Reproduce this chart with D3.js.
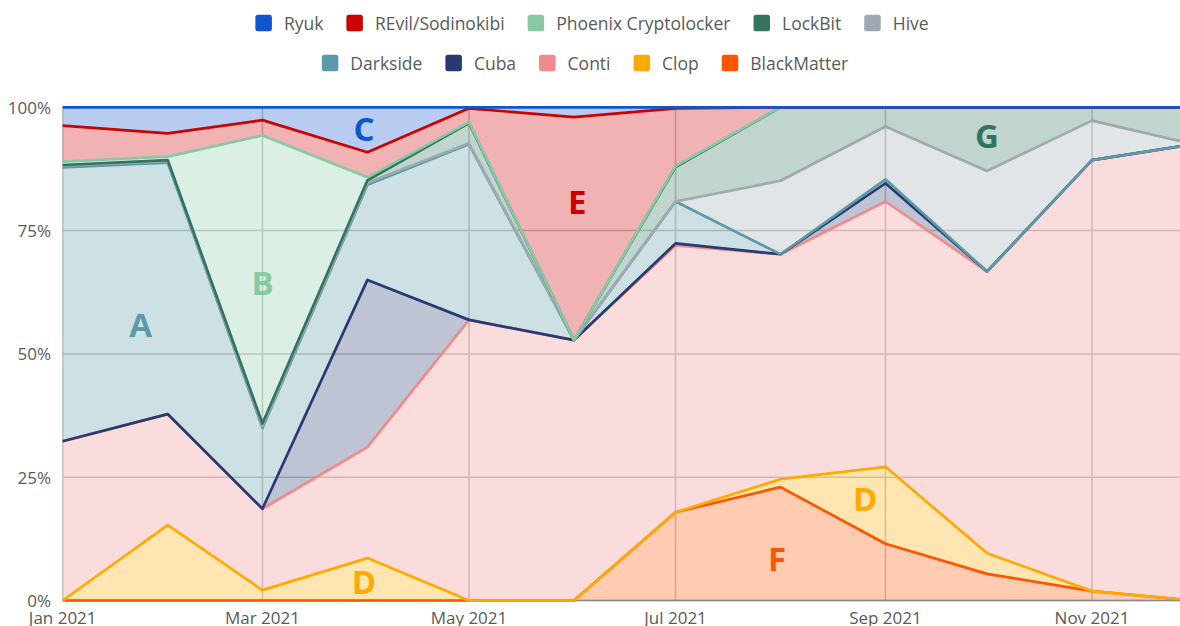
<!DOCTYPE html>
<html>
<head>
<meta charset="utf-8">
<script src="https://cdn.jsdelivr.net/npm/d3@7"></script>
<style>
  html, body { margin: 0; padding: 0; background: #fff; overflow: hidden; }
  svg { display: block; font-family: "Open Sans", "Noto Sans", sans-serif; }
</style>
</head>
<body>
<svg id="chart" width="1180" height="626"></svg>
<script>
// Monthly share of ransomware activity by group, 2021 (percent of month total)
const months = ["2021-01-01","2021-02-01","2021-03-01","2021-04-01","2021-05-01","2021-06-01",
                "2021-07-01","2021-08-01","2021-09-01","2021-10-01","2021-11-01","2021-12-01"];

const ryuk        = [3.7, 5.3, 2.6, 9.1, 0.2, 2.0, 0.2, 0, 0, 0, 0, 0];
const revil       = [7.3, 4.7, 3.1, 5.1, 2.8, 45.2, 11.7, 0, 0, 0, 0, 0];
const phoenix     = [0.7, 0.7, 58.4, 0.6, 0.2, 0, 0.2, 0, 0, 0, 0, 0];
const lockbit     = [0.1, 0.2, 0.5, 0.5, 4.1, 0, 7.0, 14.9, 3.9, 12.9, 2.7, 7.5];
const hive        = [0.4, 0.3, 0.4, 0.4, 0.2, 0, 0, 14.9, 10.7, 20.4, 8.0, 0];
const darkside    = [55.5, 51.0, 16.4, 19.3, 35.6, 0, 8.5, 0, 0.8, 0, 0, 0];
const cuba        = [0, 0, 0, 33.9, 0, 0, 0.4, 0, 3.7, 0, 0, 0];
const conti       = [32.3, 22.5, 16.5, 22.5, 56.9, 52.8, 54.1, 45.6, 53.8, 57.1, 87.4, 92.5];
const clop        = [0, 15.3, 2.1, 8.6, 0, 0, 0, 1.6, 15.6, 4.2, 0, 0];
const blackMatter = [0, 0, 0, 0, 0, 0, 17.9, 23.0, 11.5, 5.4, 1.9, 0];

// Legend order (top of stack first)
const groupNames = ["Ryuk", "REvil/Sodinokibi", "Phoenix Cryptolocker", "LockBit", "Hive",
                    "Darkside", "Cuba", "Conti", "Clop", "BlackMatter"];
const groupValues = [ryuk, revil, phoenix, lockbit, hive, darkside, cuba, conti, clop, blackMatter];
const groupColors = ["#1155cc", "#cc0000", "#88c9a4", "#33735f", "#a0a8b1",
                     "#5b9aa8", "#283a72", "#f08a8c", "#ffaa00", "#ff5500"];

const yTickValues = [0, 0.25, 0.5, 0.75, 1];

// Letter call-outs placed in data space
const noteLetters = ["A", "B", "C", "D", "D", "E", "F", "G"];
const noteGroups  = ["Darkside", "Phoenix Cryptolocker", "Ryuk", "Clop", "Clop", "REvil/Sodinokibi", "BlackMatter", "LockBit"];
const noteDates   = ["2021-01-24","2021-03-01","2021-03-31","2021-03-31","2021-08-26","2021-06-02","2021-07-31","2021-10-01"];
const noteValues  = [0.559, 0.644, 0.958, 0.038, 0.206, 0.808, 0.086, 0.942];

// ---- build table ----
const parse = d3.timeParse("%Y-%m-%d");
const table = months.map((m, i) => {
  const row = { date: parse(m) };
  groupNames.forEach((g, k) => { row[g] = groupValues[k][i]; });
  return row;
});
const color = d3.scaleOrdinal().domain(groupNames).range(groupColors);

// stack from the bottom (BlackMatter) up to Ryuk
const stackKeys = groupNames.slice().reverse();
const series = d3.stack().keys(stackKeys).offset(d3.stackOffsetExpand)(table);

// ---- scales ----
const svg = d3.select("#chart");
const plotLeft = 62.7, plotRight = 1193.6, plotTop = 107.3, plotBottom = 600.5;
const x = d3.scaleTime().domain(d3.extent(table, d => d.date)).range([plotLeft, plotRight]);
const y = d3.scaleLinear().domain([0, 1]).range([plotBottom, plotTop]);

// ---- grid ----
const xTicks = x.ticks(d3.timeMonth.every(2));
const grid = svg.append("g");
grid.selectAll("line.h").data(yTickValues).join("line")
  .attr("x1", plotLeft).attr("x2", 1180)
  .attr("y1", d => y(d)).attr("y2", d => y(d))
  .attr("stroke", "#c8c8c8").attr("stroke-width", 1.5);
grid.selectAll("line.v").data(xTicks).join("line")
  .attr("x1", d => x(d)).attr("x2", d => x(d))
  .attr("y1", plotTop).attr("y2", plotBottom)
  .attr("stroke", "#c8c8c8").attr("stroke-width", 1.5);

// ---- areas ----
const area = d3.area()
  .x(d => x(d.data.date))
  .y0(d => y(d[0]))
  .y1(d => y(d[1]));
svg.append("g").selectAll("path").data(series).join("path")
  .attr("d", area)
  .attr("fill", d => color(d.key))
  .attr("fill-opacity", 0.3);

// baseline
svg.append("line")
  .attr("x1", plotLeft).attr("x2", 1180)
  .attr("y1", y(0)).attr("y2", y(0))
  .attr("stroke", "#8a8a8a").attr("stroke-width", 1.5);

// ---- lines (upper groups drawn over lower ones) ----
const line = d3.line()
  .x(d => x(d.data.date))
  .y(d => y(d[1]));
svg.append("g").selectAll("path").data(series).join("path")
  .attr("d", line)
  .attr("fill", "none")
  .attr("stroke", d => color(d.key))
  .attr("stroke-width", 2.7)
  .attr("stroke-linejoin", "round");

// ---- axes labels ----
svg.append("g").selectAll("text").data(yTickValues).join("text")
  .attr("x", 51).attr("y", d => y(d))
  .attr("text-anchor", "end").attr("dominant-baseline", "central")
  .attr("fill", "#5a5a5a").attr("font-size", 17)
  .text(d3.format(".0%"));

svg.append("g").selectAll("text").data(xTicks).join("text")
  .attr("x", d => x(d)).attr("y", 624)
  .attr("text-anchor", "middle")
  .attr("fill", "#5a5a5a").attr("font-size", 17)
  .text(d3.timeFormat("%b %Y"));

// ---- call-out letters ----
svg.append("g").selectAll("text").data(noteLetters.map((l, i) => ({
    letter: l, group: noteGroups[i], date: parse(noteDates[i]), value: noteValues[i] })))
  .join("text")
  .attr("x", d => x(d.date)).attr("y", d => y(d.value))
  .attr("text-anchor", "middle").attr("dominant-baseline", "central")
  .attr("font-size", 33).attr("font-weight", 700)
  .attr("fill", d => color(d.group))
  .text(d => d.letter);

// ---- legend: two centred rows ----
const legendRows = [groupNames.slice(0, 5), groupNames.slice(5)];
const rowCenters = [592, 585];
const rowY = [23, 63];
const sw = 16.5, swGap = 12, itemGap = 23;
legendRows.forEach((names, r) => {
  const g = svg.append("g");
  const items = names.map(n => {
    const it = g.append("g");
    it.append("rect").attr("width", sw).attr("height", sw).attr("rx", 2.5)
      .attr("y", -sw / 2).attr("fill", color(n));
    const t = it.append("text").attr("x", sw + swGap).attr("dominant-baseline", "central")
      .attr("font-size", 17.5).attr("fill", "#5a5a5a").text(n);
    return { it, w: sw + swGap + t.node().getComputedTextLength() };
  });
  const total = d3.sum(items, d => d.w) + itemGap * (items.length - 1);
  let cx = rowCenters[r] - total / 2;
  items.forEach(d => {
    d.it.attr("transform", `translate(${cx},${rowY[r]})`);
    cx += d.w + itemGap;
  });
});
</script>
</body>
</html>
